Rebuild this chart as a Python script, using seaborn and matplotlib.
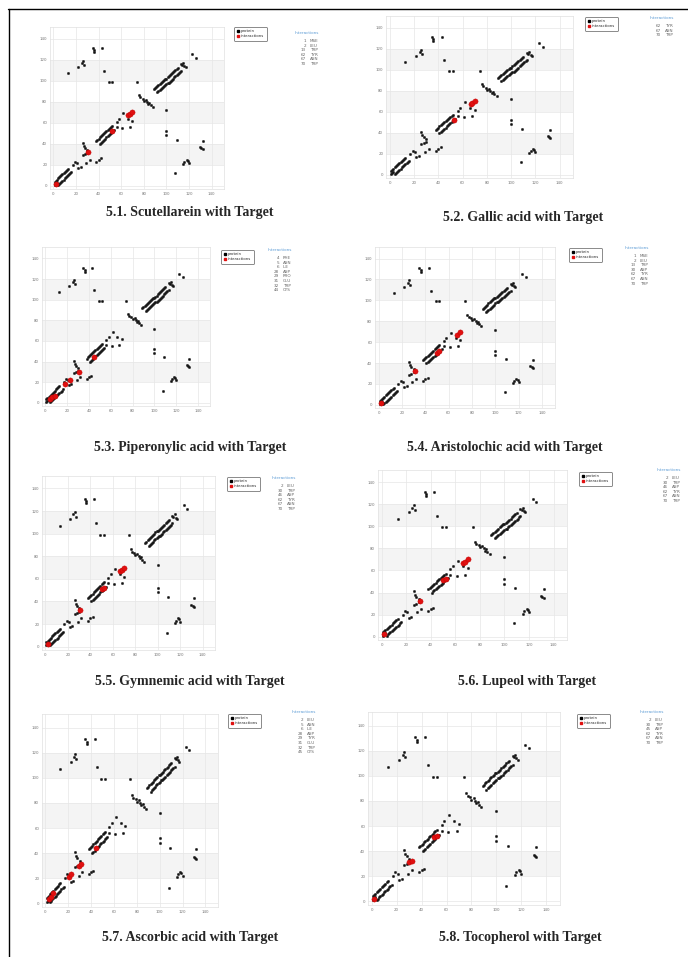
import matplotlib
matplotlib.use("Agg")
import seaborn as sns
from matplotlib import pyplot as plt
from matplotlib.lines import Line2D

# contact points of the protein, the same in every panel
strand1a_x = [1, 2, 3, 4, 5, 6, 7, 8, 9, 10, 11, 12, 13]
strand1a_y = [4, 5, 6, 7, 8, 9, 10, 11, 12, 13, 14, 15, 16]
strand1b_x = [4, 5, 6, 7, 8, 9, 10, 11, 12, 13, 14, 15, 16]
strand1b_y = [1, 2, 3, 4, 5, 6, 7, 8, 9, 10, 11, 12, 13]
strand2a_x = [38, 39, 40, 41, 42, 43, 44, 45, 46, 47, 48, 49, 50, 51, 52]
strand2a_y = [43, 44, 45, 46, 47, 48, 49, 50, 51, 52, 53, 54, 55, 56, 57]
strand2b_x = [41, 42, 43, 44, 45, 46, 47, 48, 49, 50, 51, 52, 53, 54]
strand2b_y = [40, 41, 42, 43, 44, 45, 46, 47, 48, 49, 50, 51, 52, 53]
strand3a_x = [89, 90, 91, 92, 93, 94, 95, 96, 97, 98, 99, 100, 101, 102, 103, 104, 105, 106, 107, 108, 109, 110]
strand3a_y = [92, 93, 94, 95, 96, 97, 98, 99, 100, 101, 102, 102, 103, 104, 105, 106, 107, 108, 109, 110, 111, 112]
strand3b_x = [92, 93, 94, 95, 96, 97, 98, 99, 100, 101, 102, 103, 104, 105, 106, 107, 108, 109, 110, 111, 112, 113]
strand3b_y = [89, 90, 91, 92, 93, 94, 95, 96, 97, 98, 98, 99, 100, 101, 102, 103, 104, 105, 106, 107, 108, 109]
loose_x = [13, 22, 25, 26, 27, 35, 36, 36, 43, 45, 49, 52, 74,
           76, 77, 79, 80, 82, 83, 84, 85, 86, 88,
           113, 114, 116, 117, 115, 123, 126,
           100, 100, 100, 109, 132, 130, 131, 132, 115, 116, 118, 119, 120, 108,
           17, 19, 21, 22, 24, 26, 27, 28, 26, 28, 30, 29, 32, 38, 40, 42, 30,
           56, 56, 62, 61, 68, 70, 66, 58, 1, 2, 3]
loose_y = [107, 113, 117, 119, 115, 131, 129, 127, 131, 109, 99, 99, 99,
           86, 84, 83, 81, 82, 80, 78, 79, 77, 75,
           116, 115, 114, 113, 117, 125, 122,
           72, 52, 48, 44, 43, 37, 36, 35, 21, 23, 25, 24, 22, 12,
           20, 23, 22, 17, 18, 41, 38, 36, 29, 30, 31, 22, 25, 23, 25, 26, 34,
           61, 56, 69, 55, 56, 62, 64, 64, 1, 2, 3]

protein_x = strand1a_x + strand1b_x + strand2a_x + strand2b_x + strand3a_x + strand3b_x + loose_x
protein_y = strand1a_y + strand1b_y + strand2a_y + strand2b_y + strand3a_y + strand3b_y + loose_y

# interacting residues, one entry per panel
titles = ["5.1. Scutellarein with Target", "5.2. Gallic acid with Target",
          "5.3. Piperonylic acid with Target", "5.4. Aristolochic acid with Target",
          "5.5. Gymnemic acid with Target", "5.6. Lupeol with Target",
          "5.7. Ascorbic acid with Target", "5.8. Tocopherol with Target"]
red_x = [[2, 31, 52, 66, 68, 70],
         [53, 67, 68, 70],
         [4, 6, 9, 18, 23, 31, 45],
         [2, 31, 50, 52, 67, 70],
         [2, 31, 50, 52, 66, 68, 70],
         [2, 31, 50, 52, 66, 68, 70],
         [3, 5, 7, 21, 22, 29, 31, 44],
         [2, 30, 32, 50, 52]]
red_y = [[2, 32, 52, 67, 68, 70],
         [52, 67, 68, 70],
         [4, 6, 7, 18, 22, 30, 44],
         [2, 32, 50, 52, 67, 70],
         [2, 32, 51, 52, 67, 68, 70],
         [2, 32, 51, 52, 67, 68, 70],
         [3, 5, 8, 21, 23, 30, 31, 44],
         [2, 31, 32, 51, 52]]
res_nums = [[1, 2, 13, 62, 67, 70],
            [62, 67, 70],
            [4, 5, 6, 28, 29, 31, 32, 44],
            [1, 2, 13, 30, 62, 67, 70],
            [2, 30, 46, 62, 67, 70],
            [2, 30, 46, 62, 67, 70],
            [2, 5, 6, 28, 29, 31, 32, 45],
            [2, 30, 45, 62, 67, 70]]
res_names = [["MSE", "LEU", "TRP", "TYR", "ASN", "TRP"],
             ["TYR", "ASN", "TRP"],
             ["PHE", "ASN", "ILE", "ASP", "PRO", "GLU", "TRP", "CYS"],
             ["MSE", "LEU", "TRP", "ASP", "TYR", "ASN", "TRP"],
             ["LEU", "TRP", "ASP", "TYR", "ASN", "TRP"],
             ["LEU", "TRP", "ASP", "TYR", "ASN", "TRP"],
             ["LEU", "ASN", "ILE", "ASP", "TYR", "GLU", "TRP", "CYS"],
             ["LEU", "TRP", "ASP", "TYR", "ASN", "TRP"]]
ticks = [0, 20, 40, 60, 80, 100, 120, 140]

# layout in pixels: axes box, legend corner, "Interactions" corner, title centre
W, H = 688, 957
axes_px = [(50, 27, 224, 189), (386, 16, 573, 178), (42, 247, 210, 406), (375, 247, 555, 408),
           (42, 476, 215, 650), (378, 470, 567, 640), (42, 714, 218, 907), (368, 712, 560, 905)]
legend_px = [(232, 25), (583, 15), (219, 248), (567, 246), (225, 475), (577, 470), (226, 712), (575, 712)]
inter_px = [(295, 33), (650, 18), (268, 250), (625, 248), (272, 478), (657, 470), (292, 712), (640, 712)]
title_px = [(190, 213), (523, 217), (190, 447), (505, 447), (190, 682), (527, 682), (190, 938), (520, 938)]

sns.set_style("white")
plt.rcParams['font.family'] = ['DejaVu Sans']
fig = plt.figure(figsize=(W / 100, H / 100), dpi=100)
fig.patch.set_facecolor('white')

def fx(px):
    return px / W

def fy(py):
    return 1 - py / H

for i in range(8):
    x0, y0, x1, y1 = axes_px[i]
    ax = fig.add_axes([fx(x0), fy(y1), (x1 - x0) / W, (y1 - y0) / H])
    for lo in [20, 60, 100]:
        ax.axhspan(lo, lo + 20, color='#f4f4f4', zorder=0, lw=0)
    ax.grid(True, color='#e6e6e6', lw=0.5)
    ax.set_axisbelow(True)
    sns.scatterplot(x=protein_x, y=protein_y, ax=ax, color='#111111', s=3,
                    edgecolor='#222222', linewidth=0.3, legend=False, zorder=3)
    sns.scatterplot(x=red_x[i], y=red_y[i], ax=ax, color='#e01010', s=14,
                    edgecolor='#c00000', linewidth=0.3, legend=False, zorder=4)
    ax.set_xlim(-3, 151)
    ax.set_ylim(-3, 151)
    ax.set_xticks(ticks)
    ax.set_yticks(ticks)
    ax.tick_params(labelsize=2.8, labelcolor='#777777', length=0, pad=2)
    for sp in ax.spines.values():
        sp.set_color('#e0e0e0')
        sp.set_linewidth(0.5)

    # legend box
    handles = [Line2D([], [], marker='s', ls='', color='black', ms=1.6, label='protein'),
               Line2D([], [], marker='s', ls='', color='#e01010', ms=1.6, label='interactions')]
    lx, ly = legend_px[i]
    leg = ax.legend(handles=handles, loc='upper left', bbox_to_anchor=(fx(lx), fy(ly)),
                    bbox_transform=fig.transFigure, fontsize=2.8, frameon=True,
                    borderpad=0.6, handletextpad=0.4, labelspacing=0.3, handlelength=0.8)
    leg.get_frame().set_edgecolor('#555555')
    leg.get_frame().set_linewidth(0.6)

    # list of interacting residues
    ix, iy = inter_px[i]
    fig.text(fx(ix), fy(iy), 'Interactions', fontsize=3, color='#5b9bd5', va='center')
    for k, (num, name) in enumerate(zip(res_nums[i], res_names[i])):
        ry = iy + 8 + k * 4.6
        fig.text(fx(ix + 11), fy(ry), str(num), fontsize=3, color='#666666', ha='right', va='center')
        fig.text(fx(ix + 15), fy(ry), name, fontsize=3, color='#666666', ha='left', va='center')

    tx, ty = title_px[i]
    fig.text(fx(tx), fy(ty), titles[i], fontsize=10, fontweight='bold',
             family='Liberation Serif', ha='center', va='center')

# page frame lines
fig.add_artist(Line2D([fx(8), fx(688)], [fy(9), fy(9)], color='black', lw=1))
fig.add_artist(Line2D([fx(9), fx(9)], [fy(9), fy(957)], color='black', lw=1))

fig.savefig('out.png', dpi=100)
